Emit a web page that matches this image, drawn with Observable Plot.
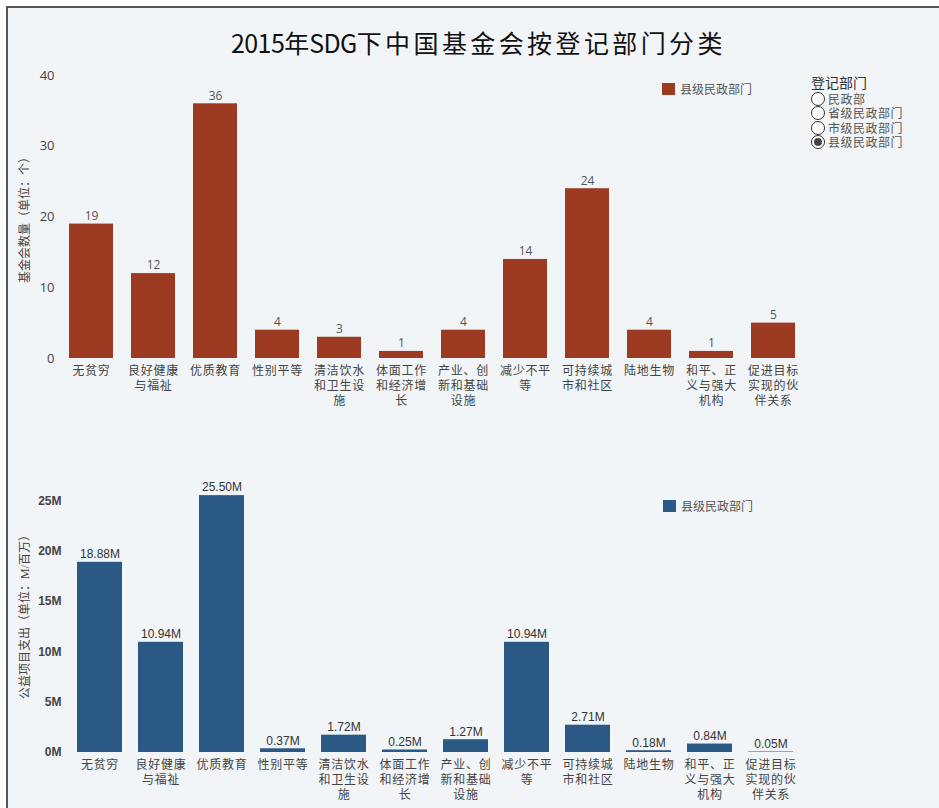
<!DOCTYPE html>
<html>
<head>
<meta charset="utf-8">
<script src="https://cdn.jsdelivr.net/npm/d3@7"></script>
<script src="https://cdn.jsdelivr.net/npm/@observablehq/plot@0.6"></script>
<style>
  html, body { margin: 0; padding: 0; background: #ffffff; width: 939px; height: 808px; overflow: hidden; }
  #frame { position: absolute; left: 6px; top: 6px; width: 1000px; height: 900px;
           border-top: 2px solid #555; border-left: 2px solid #555; background: #f2f5f7; }
  .abs { position: absolute; }
  #title { left: 9px; width: 939px; top: 26px; text-align: center; font-family: "Noto Sans CJK SC", sans-serif;
           font-size: 25px; color: #111; line-height: 32px; }
  #title .lat { letter-spacing: -0.6px; }
  #title .cjk { letter-spacing: 3.4px; }
  .cjkserif { font-family: serif, "Noto Sans CJK SC"; }
  .leg { font-size: 12px; color: #555; display: flex; align-items: center; white-space: nowrap; }
  .leg .sw { width: 13px; height: 12px; margin-right: 5px; }
  #radio { left: 811px; top: 75px; color: #444; }
  #radio .rt { font-size: 14px; line-height: 17px; color: #333; }
  #radio .ri { display: flex; align-items: center; height: 14.3px; font-size: 12px; color: #555; letter-spacing: 0.5px; }
  #radio .ri span.c { width: 14px; height: 14px; border: 1.3px solid #333; border-radius: 50%; margin-right: 3px;
           box-sizing: border-box; display: inline-flex; align-items: center; justify-content: center; background: #fff; flex: none; }
  #radio .ri span.c i { width: 8px; height: 8px; border-radius: 50%; background: #444; display: block; }
  .chart { position: absolute; left: 0; }
  .chart svg [aria-label="x-axis tick label"] text { letter-spacing: 0.7px; }
</style>
</head>
<body>
<div id="frame"></div>
<div id="title" class="abs"><span class="lat">2015</span>年<span class="lat">SDG</span><span class="cjk">下中国基金会按登记部门分类</span></div>
<div id="top" class="chart" style="top:60px"></div>
<div id="bottom" class="chart" style="top:470px"></div>
<div class="abs leg cjkserif" style="left:662px; top:80px;"><div class="sw" style="background:#9c3b22"></div>县级民政部门</div>
<div class="abs leg cjkserif" style="left:663px; top:497px;"><div class="sw" style="background:#2b5985"></div>县级民政部门</div>
<div id="radio" class="abs cjkserif"></div>
<script>
const categories = ["无贫穷", "良好健康与福祉", "优质教育", "性别平等", "清洁饮水和卫生设施", "体面工作和经济增长",
  "产业、创新和基础设施", "减少不平等", "可持续城市和社区", "陆地生物", "和平、正义与强大机构", "促进目标实现的伙伴关系"];
const foundationCounts = [19, 12, 36, 4, 3, 1, 4, 14, 24, 4, 1, 5];
const spendingMillions = [18.88, 10.94, 25.50, 0.37, 1.72, 0.25, 1.27, 10.94, 2.71, 0.18, 0.84, 0.05];
const countTicks = [0, 10, 20, 30, 40];
const spendTicks = [0, 5, 10, 15, 20, 25];
const departments = ["民政部", "省级民政部门", "市级民政部门", "县级民政部门"];
const selectedDept = "县级民政部门";
const titleTop = "基金会数量（单位：个）";
const titleBottom = "公益项目支出（单位：M/百万）";

const red = "#9c3b22", blue = "#2b5985";
const cjkFont = "serif, 'Noto Sans CJK SC'";
const wrap = s => s.match(/.{1,4}/gu).join("\n");

const countData = categories.map((c, i) => ({cat: c, v: foundationCounts[i]}));
const spendData = categories.map((c, i) => ({cat: c, v: spendingMillions[i]}));

const topChart = Plot.plot({
  width: 939, height: 360, marginLeft: 60, marginRight: 135, marginTop: 15, marginBottom: 62,
  style: {background: "transparent", color: "#444", overflow: "visible"},
  x: {domain: categories, paddingInner: 0.29, paddingOuter: 0.145, label: null},
  y: {domain: [0, 40], label: null},
  marks: [
    Plot.barY(countData, {x: "cat", y: "v", fill: red}),
    Plot.text(countData, {x: "cat", y: "v", text: d => String(d.v), dy: -8, fill: "#555", fontSize: 12, fontFamily: "Open Sans"}),
    Plot.axisX({tickSize: 0, tickPadding: 6, tickFormat: wrap, fontSize: 12, fontFamily: cjkFont, lineHeight: 1.25, label: null, fill: "#444"}),
    Plot.axisY({ticks: countTicks, tickSize: 0, tickPadding: 6, fontSize: 13, fontFamily: "Open Sans", label: null, fill: "#444"}),
    Plot.axisY({ticks: [], tickSize: 0, label: titleTop, labelAnchor: "center", labelArrow: "none", labelOffset: 40, fontSize: 12, fontFamily: cjkFont})
  ]
});
document.getElementById("top").appendChild(topChart);

const bottomChart = Plot.plot({
  width: 939, height: 340, marginLeft: 67, marginRight: 135, marginTop: 5, marginBottom: 58,
  style: {background: "transparent", color: "#444", overflow: "visible"},
  x: {domain: categories, paddingInner: 0.256, paddingOuter: 0.128, label: null},
  y: {domain: [0, 27.5], label: null},
  marks: [
    Plot.barY(spendData, {x: "cat", y: "v", fill: blue}),
    Plot.text(spendData, {x: "cat", y: "v", text: d => d.v.toFixed(2) + "M", dy: -8, fill: "#333", fontSize: 12, fontFamily: "Liberation Sans"}),
    Plot.axisX({tickSize: 0, tickPadding: 6, tickFormat: wrap, fontSize: 12, fontFamily: cjkFont, lineHeight: 1.25, label: null, fill: "#444"}),
    Plot.axisY({ticks: spendTicks, tickFormat: d => d + "M", tickSize: 0, tickPadding: 6, fontSize: 12, fontWeight: "bold", fontFamily: "'Liberation Sans Narrow', 'Liberation Sans'", label: null, fill: "#444"}),
    Plot.axisY({ticks: [], tickSize: 0, label: titleBottom, labelAnchor: "center", labelArrow: "none", labelOffset: 47, fontSize: 12, fontFamily: cjkFont})
  ]
});
document.getElementById("bottom").appendChild(bottomChart);

const radio = document.getElementById("radio");
radio.innerHTML = `<div class="rt">登记部门</div>` + departments.map(d =>
  `<div class="ri"><span class="c">${d === selectedDept ? "<i></i>" : ""}</span>${d}</div>`).join("");
</script>
</body>
</html>
